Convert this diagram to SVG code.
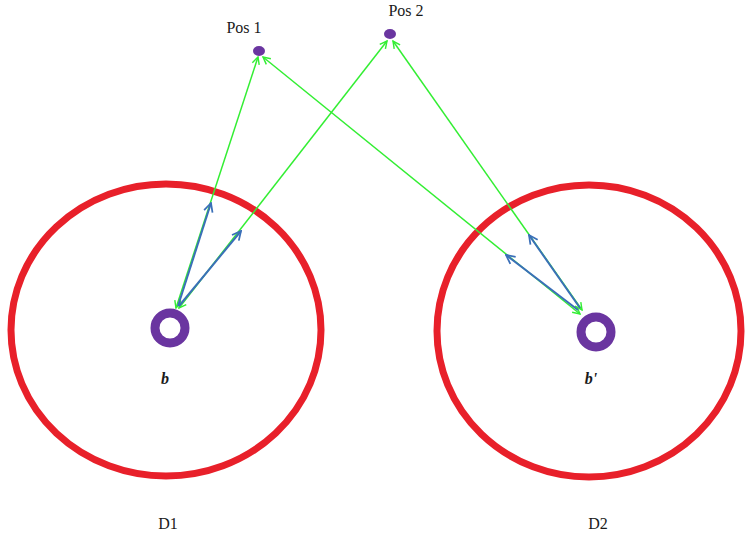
<svg xmlns="http://www.w3.org/2000/svg" width="746" height="537" viewBox="0 0 746 537">
<style>
.zone{fill:none;stroke:#e8202a;stroke-width:7}
.ring{fill:none;stroke:#6a35a0;stroke-width:9}
.dot{fill:#6a35a0}
.g{stroke:#33ee33;stroke-width:1.5;fill:none}
.b{stroke:#3a6fb8;stroke-width:2;fill:none}
.lbl{font-family:"Liberation Serif","DejaVu Serif",serif;font-size:16px;fill:#1a1a1a;text-anchor:middle}
.it{font-style:italic;font-weight:bold}
</style>
<defs>
<marker id="ag" viewBox="0 0 10 10" refX="9" refY="5" markerWidth="9" markerHeight="9" markerUnits="userSpaceOnUse" orient="auto-start-reverse">
<path d="M1,1 L9,5 L1,9" fill="none" stroke="#33ee33" stroke-width="1.6"/>
</marker>
<marker id="ab" viewBox="0 0 10 10" refX="9" refY="5" markerWidth="11" markerHeight="11" markerUnits="userSpaceOnUse" orient="auto">
<path d="M1,1 L9,5 L1,9" fill="none" stroke="#3a6fb8" stroke-width="1.6"/>
</marker>
</defs>
<g id="D1"><ellipse class="zone" cx="166" cy="330" rx="155" ry="146"/><text class="lbl" x="168" y="529">D1</text></g>
<g id="D2"><ellipse class="zone" cx="589" cy="331" rx="152" ry="146"/><text class="lbl" x="598" y="529">D2</text></g>
<g id="b"><circle class="ring" cx="170" cy="328" r="15"/><text class="lbl it" x="165" y="384">b</text></g>
<g id="bp"><circle class="ring" cx="596" cy="332" r="15"/><text class="lbl it" x="591" y="384">b'</text></g>
<g id="pos1"><ellipse class="dot" cx="259" cy="51" rx="6" ry="5"/><text class="lbl" x="244" y="33">Pos 1</text></g>
<g id="pos2"><ellipse class="dot" cx="390" cy="34" rx="6" ry="5"/><text class="lbl" x="406" y="16">Pos 2</text></g>
<g id="connectors">
<line class="g" x1="258" y1="57" x2="176" y2="308" marker-start="url(#ag)" marker-end="url(#ag)"/>
<line class="g" x1="387" y1="41" x2="179" y2="308" marker-end="url(#ag)" marker-start="url(#ag)"/>
<line class="g" x1="263" y1="57" x2="580" y2="314" marker-start="url(#ag)" marker-end="url(#ag)"/>
<line class="g" x1="393" y1="41" x2="582" y2="310" marker-start="url(#ag)" marker-end="url(#ag)"/>
<line class="b" x1="178" y1="306" x2="211" y2="203" marker-end="url(#ab)"/>
<line class="b" x1="179" y1="306" x2="241" y2="231" marker-end="url(#ab)"/>
<line class="b" x1="580" y1="308" x2="529" y2="235" marker-end="url(#ab)"/>
<line class="b" x1="578" y1="310" x2="506" y2="255" marker-end="url(#ab)"/>
</g>
</svg>
